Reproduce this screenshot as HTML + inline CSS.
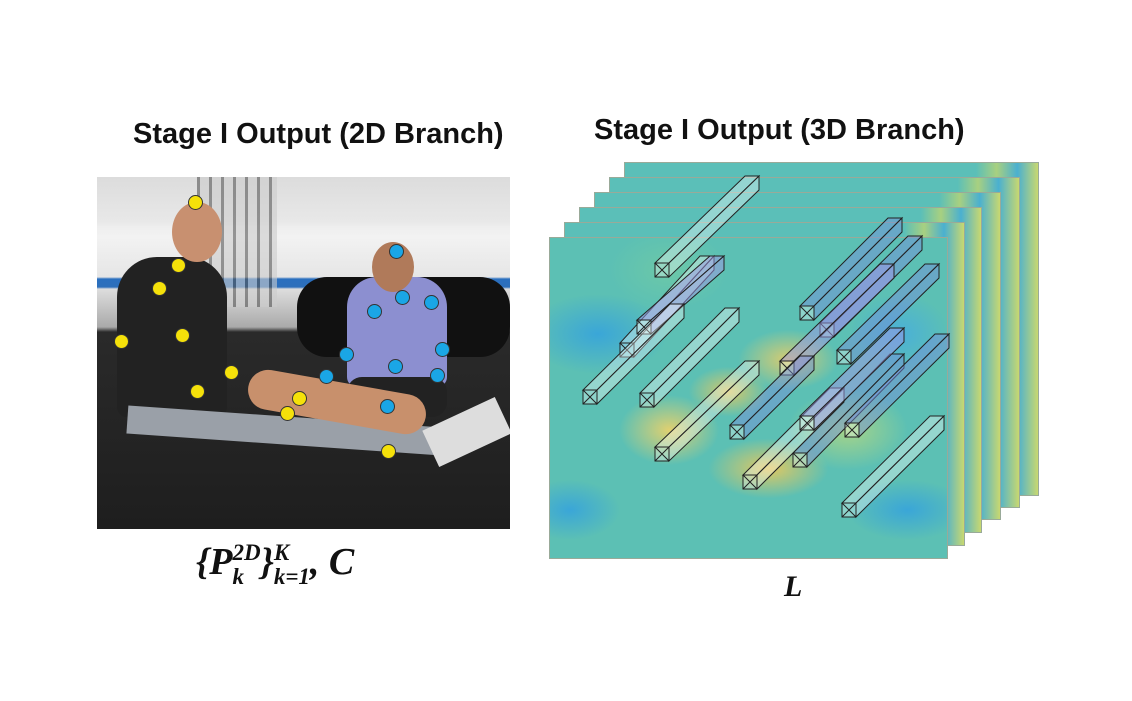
<!DOCTYPE html>
<html><head><meta charset="utf-8">
<style>
html,body{margin:0;padding:0;background:#fff;}
body{width:1132px;height:701px;position:relative;overflow:hidden;font-family:"Liberation Sans",sans-serif;}
.title{position:absolute;font-weight:bold;font-size:29px;color:#111;white-space:nowrap;}
#photo{position:absolute;left:97px;top:177px;width:413px;height:352px;overflow:hidden;
background:linear-gradient(#dcdcdc 0,#e8e8e8 45px,#eee 50px,#f2f2f2 60px,#e6e6e6 100px,#2a6fbf 102px,#2d6fbb 110px,#ddd 112px,#aaa 150px,#2a2a2a 155px,#1e1e1e 352px);}
.d{position:absolute;width:13px;height:13px;border-radius:50%;border:1px solid #333;}
.y{background:#f5e10a;}.b{background:#1aa6e6;}
.frame{position:absolute;border:1px solid #9a9;box-sizing:border-box;
background:linear-gradient(90deg,#5bbfb8 0,#5bbfb8 85%,#a8d080 90%,#4ab0d0 95%,#c8d870 100%);}
.math{position:absolute;font-family:"Liberation Serif",serif;font-weight:bold;font-style:italic;color:#111;}
.ss{display:inline-block;vertical-align:middle;font-size:23px;line-height:24px;text-align:left;}
</style></head><body>
<div class="title" style="left:133px;top:118px;">Stage I Output (2D Branch)</div>
<div class="title" style="left:594px;top:114px;">Stage I Output (3D Branch)</div>

<div id="photo">
  <div style="position:absolute;left:100px;top:0;width:80px;height:130px;background:repeating-linear-gradient(90deg,#555 0 3px,#ccc 3px 12px);opacity:.6"></div>
  <div style="position:absolute;left:200px;top:100px;width:213px;height:80px;background:#111;border-radius:30px;"></div>
  <div style="position:absolute;left:20px;top:80px;width:110px;height:160px;background:#222;border-radius:40px 40px 10px 10px;"></div>
  <div style="position:absolute;left:75px;top:25px;width:50px;height:60px;background:#c89070;border-radius:50%;"></div>
  <div style="position:absolute;left:250px;top:100px;width:100px;height:110px;background:#8c8fd0;border-radius:30px 30px 10px 10px;"></div>
  <div style="position:absolute;left:275px;top:65px;width:42px;height:50px;background:#b07a5a;border-radius:50%;"></div>
  <div style="position:absolute;left:250px;top:200px;width:100px;height:40px;background:#222;border-radius:15px;"></div>
  <div style="position:absolute;left:30px;top:240px;width:330px;height:28px;background:#9aa0a8;transform:rotate(4deg);"></div>
  <div style="position:absolute;left:150px;top:205px;width:180px;height:40px;background:#c8906c;border-radius:20px;transform:rotate(10deg);"></div>
  <div style="position:absolute;left:330px;top:235px;width:80px;height:40px;background:#ddd;transform:rotate(-25deg);"></div>
  <div class="d y" style="left:91px;top:18px"></div><div class="d y" style="left:74px;top:81px"></div>
  <div class="d y" style="left:55px;top:104px"></div><div class="d y" style="left:78px;top:151px"></div>
  <div class="d y" style="left:17px;top:157px"></div><div class="d y" style="left:127px;top:188px"></div>
  <div class="d y" style="left:93px;top:207px"></div><div class="d y" style="left:195px;top:214px"></div>
  <div class="d y" style="left:183px;top:229px"></div><div class="d y" style="left:284px;top:267px"></div>
  <div class="d b" style="left:292px;top:67px"></div><div class="d b" style="left:298px;top:113px"></div>
  <div class="d b" style="left:327px;top:118px"></div><div class="d b" style="left:270px;top:127px"></div>
  <div class="d b" style="left:242px;top:170px"></div><div class="d b" style="left:338px;top:165px"></div>
  <div class="d b" style="left:291px;top:182px"></div><div class="d b" style="left:333px;top:191px"></div>
  <div class="d b" style="left:222px;top:192px"></div><div class="d b" style="left:283px;top:222px"></div>
</div>
<div class="math" style="left:196px;top:540px;font-size:38px;white-space:nowrap;">{P<span class="ss">2D<br>k</span>}<span class="ss">K<br>k=1</span>, C</div>

<div class="frame" style="left:624px;top:162px;width:415px;height:334px;"></div>
<div class="frame" style="left:609px;top:177px;width:411px;height:331px;"></div>
<div class="frame" style="left:594px;top:192px;width:407px;height:328px;"></div>
<div class="frame" style="left:579px;top:207px;width:403px;height:326px;"></div>
<div class="frame" style="left:564px;top:222px;width:401px;height:324px;"></div>
<div class="frame" style="left:549px;top:237px;width:399px;height:322px;background:
radial-gradient(ellipse 50px 35px at 30% 60%,#e0d070,transparent),
radial-gradient(ellipse 60px 30px at 55% 72%,#e2c860,transparent),
radial-gradient(ellipse 50px 30px at 60% 38%,#d8cc70,transparent),
radial-gradient(ellipse 40px 25px at 45% 48%,#d6c868,transparent),
radial-gradient(ellipse 70px 40px at 12% 30%,#3aa6d8,transparent),
radial-gradient(ellipse 50px 30px at 5% 85%,#3aa6d8,transparent),
radial-gradient(ellipse 60px 30px at 90% 85%,#3aa6d8,transparent),
radial-gradient(ellipse 50px 40px at 88% 30%,#4ab0d8,transparent),
radial-gradient(ellipse 60px 40px at 30% 10%,#6cc8a8,transparent),
radial-gradient(ellipse 60px 40px at 75% 60%,#a6d488,transparent),
#5cc0b4;"></div>

<svg width="1132" height="701" style="position:absolute;left:0;top:0">
<g id="bars"></g></svg>
<div class="math" style="left:784px;top:570px;font-size:30px;">L</div>
<script>
const bars=[[655,277,745,190,0],[620,357,700,270,0],[637,334,710,270,1],[583,404,670,318,0],[640,407,725,322,0],[800,320,888,232,2],[820,337,908,250,2],[780,375,880,278,1],[837,364,925,278,2],[730,439,800,370,2],[655,461,745,375,0],[793,467,890,368,2],[743,489,830,402,0],[845,437,935,348,2],[800,430,890,342,1],[842,517,930,430,0]];
const g=document.getElementById('bars');const s=14;
const fills=['rgba(255,255,255,0.35)','rgba(160,150,230,0.5)','rgba(120,140,220,0.45)'];
bars.forEach(b=>{const[x,y,X,Y,c]=b;
 const mk=(pts,f)=>{const p=document.createElementNS('http://www.w3.org/2000/svg','polygon');
  p.setAttribute('points',pts.map(q=>q.join(',')).join(' '));p.setAttribute('fill',f);p.setAttribute('stroke','#222');p.setAttribute('stroke-width','1');
  
  
  g.appendChild(p);};
 mk([[x,y-s],[x+s,y-s],[X+s,Y-s],[X,Y-s]],fills[c]);
 mk([[x+s,y-s],[x+s,y],[X+s,Y],[X+s,Y-s]],fills[c]);
 mk([[x,y-s],[x+s,y-s],[x+s,y],[x,y]],'rgba(255,255,255,0.3)');
 const l=document.createElementNS('http://www.w3.org/2000/svg','path');
 l.setAttribute('d',`M${x},${y-s}L${x+s},${y}M${x+s},${y-s}L${x},${y}`);l.setAttribute('stroke','#222');
 
 
 g.appendChild(l);
});
</script>
</body></html>
